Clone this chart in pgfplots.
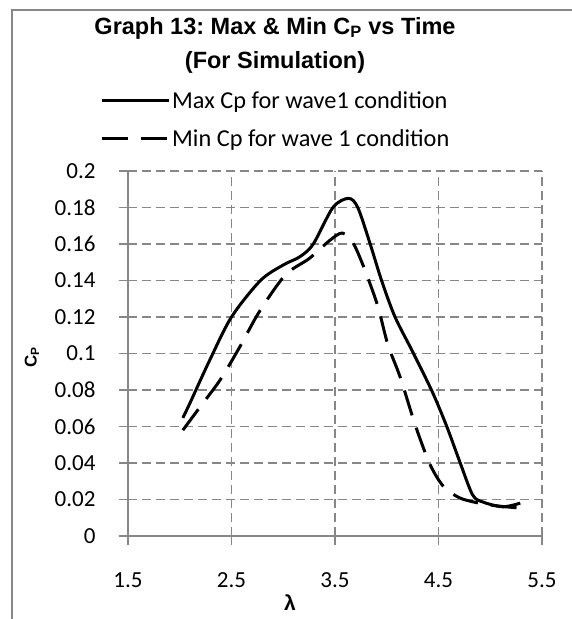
\documentclass[border=0pt]{standalone}
\usepackage{fontspec}
\setmainfont{Carlito}
\newfontfamily\arialfont{Liberation Sans}
\usepackage{pgfplots}
\pgfplotsset{compat=1.18}
\definecolor{gridgray}{HTML}{878787}
\frenchspacing
\begin{document}
\begin{tikzpicture}[x=1pt,y=1pt]
\useasboundingbox (0,0) rectangle (571,619);
\draw[gridgray, line width=2pt] (12,-10) -- (12,609) -- (590,609);
\node[font=\arialfont\bfseries\fontsize{23.5}{28}\selectfont] at (275,591) {\frenchspacing Graph 13: Max \& Min C\textsubscript{P} vs Time};
\node[font=\arialfont\bfseries\fontsize{23.5}{28}\selectfont] at (275,557) {(For Simulation)};
\begin{axis}[
  at={(128pt,83pt)}, anchor=south west,
  scale only axis, width=414pt, height=365pt,
  xmin=1.5, xmax=5.5, ymin=0, ymax=0.2,
  xtick={1.5,2.5,3.5,4.5,5.5},
  xticklabels={1.5,2.5,3.5,4.5,5.5},
  ytick={0,0.02,0.04,0.06,0.08,0.1,0.12,0.14,0.16,0.18,0.2},
  yticklabels={0,0.02,0.04,0.06,0.08,0.1,0.12,0.14,0.16,0.18,0.2},
  axis x line*=bottom, axis y line*=left,
  axis line style={gridgray, line width=1.5pt, -},
  tick style={gridgray, line width=1.5pt},
  tick align=outside, major tick length=9pt,
  grid=major,
  major grid style={gridgray, line width=1.5pt, dash pattern=on 9pt off 5pt},
  ticklabel style={font=\fontsize{23}{23}\selectfont},
  yticklabel style={xshift=-20pt},
  xticklabel style={yshift=-24pt},
  xlabel={\arialfont\bfseries\fontsize{21}{21}\selectfont λ},
  xlabel style={at={(axis description cs:0.391,-0.1836)}, anchor=center},
  ylabel={\arialfont\bfseries\fontsize{17}{17}\selectfont C\textsubscript{P}},
  ylabel style={at={(axis description cs:-0.232,0.49)}, anchor=center},
  legend style={at={(axis description cs:-0.0676,1.2247)}, anchor=north west, draw=none, fill=none,
    font=\fontsize{24.3}{28}\selectfont, row sep=16pt, inner sep=0pt},
  legend cell align=left,
  legend image code/.code={\draw[#1] (0pt,0pt) -- (67pt,0pt);},
  clip=false,
]
\addplot[black, line width=3pt, smooth, tension=0.5] coordinates {
 (2.03,0.0647) (2.1,0.073) (2.29,0.0964) (2.5,0.12) (2.78,0.140) (3.0,0.1485) (3.16,0.153)
 (3.29,0.16) (3.48,0.18) (3.63,0.185) (3.72,0.18) (3.84,0.16) (3.95,0.14) (4.08,0.12)
 (4.25,0.101) (4.44,0.079) (4.58,0.06) (4.71,0.04) (4.83,0.0225) (4.93,0.0186) (5.12,0.016) (5.29,0.018)
};
\addlegendentry{Max Cp for wave1 condition}
\addplot[black, line width=3pt, smooth, tension=0.5, dash pattern=on 26pt off 13pt] coordinates {
 (2.03,0.058) (2.2,0.071) (2.39,0.0855) (2.58,0.1036) (2.77,0.123) (3.02,0.143) (3.25,0.152)
 (3.45,0.162) (3.57,0.166) (3.67,0.161) (3.77,0.1485) (3.91,0.1266) (4.01,0.105) (4.13,0.087)
 (4.28,0.06) (4.42,0.039) (4.55,0.027) (4.7,0.021) (4.85,0.0185) (5.0,0.017) (5.15,0.016) (5.29,0.0153)
};
\addlegendentry{Min Cp for wave 1 condition}
\end{axis}
\end{tikzpicture}
\end{document}
